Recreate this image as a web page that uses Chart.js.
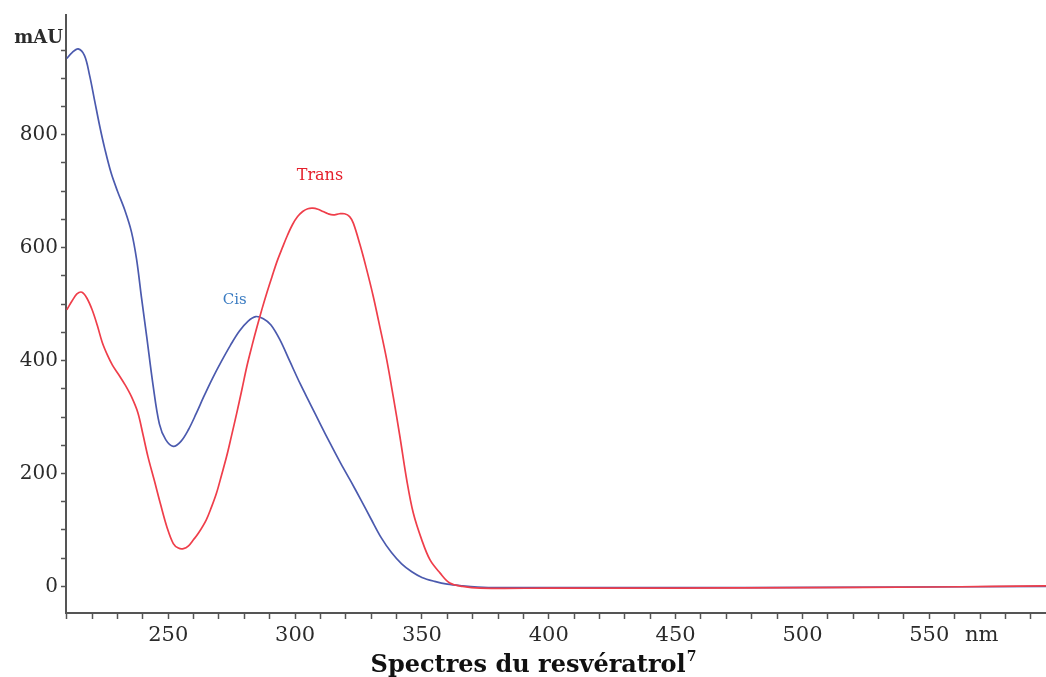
<!DOCTYPE html>
<html lang="fr">
<head>
<meta charset="utf-8">
<title>Spectres du resvératrol</title>
<script src="https://cdn.jsdelivr.net/npm/chart.js@4.4.1/dist/chart.umd.min.js"></script>
<style>
    html, body { margin: 0; padding: 0; background: #fff; }
    canvas { display: block; }
</style>
</head>
<body>
<canvas id="spectreChart" width="1046" height="677"></canvas>
<script>
const nmTrans = [210, 212, 214, 216, 218, 220, 222, 224, 226, 228, 230.5, 233, 235.5, 238, 240, 242, 244.5, 247, 249.5, 252, 254, 256, 258, 260, 262, 265, 267, 269, 271, 273, 275, 277, 279, 281, 283, 285, 287, 289, 291, 293, 295, 297, 299, 301, 303, 305, 307, 309, 311, 313, 315, 317.5, 319.5, 321.5, 323, 325.6, 328, 330.8, 333.5, 336.1, 338.7, 341.3, 344, 346.6, 349.9, 353.2, 357.1, 361, 366, 373, 400, 450, 500, 550, 575, 596];
const absTrans = [490, 505, 518, 521, 510, 490, 463, 432, 410, 392, 375, 357, 336, 308, 270, 230, 188, 145, 105, 76, 68, 67, 72, 83, 95, 118, 140, 165, 197, 230, 268, 307, 348, 390, 426, 460, 492, 522, 550, 577, 600, 622, 641, 655, 664, 669, 670, 668, 664, 660, 658, 660, 660, 655, 643, 605, 565, 514, 458, 402, 336, 266, 189, 130, 83, 47, 24, 6, 0, -3, -3, -3, -2, -1, 0, 1];

const nmCis = [210, 212, 214.5, 217, 219, 221, 223, 225, 227.5, 230, 233, 235.5, 237.5, 239.5, 241.5, 244, 246.5, 249, 252, 255, 258, 261, 264, 267.5, 271, 274.5, 278, 281.5, 284.5, 287.5, 290.5, 294, 298, 302, 306, 310, 314, 318, 322, 326, 330, 334, 338, 342, 346, 350, 355, 360, 366, 372, 380, 420, 480, 540, 596];
const absCis = [935, 945, 952, 940, 905, 860, 815, 775, 732, 700, 665, 628, 580, 510, 443, 357, 288, 260, 248, 257, 278, 306, 336, 369, 399, 427, 452, 470, 478, 474, 463, 437, 398, 359, 323, 287, 252, 218, 186, 153, 119, 86, 60, 40, 26, 16, 9, 4, 1, -1, -2, -2, -2, -1, 0];

// Graduations
const xLabelTicks = [250, 300, 350, 400, 450, 500, 550];
const yLabelTicks = [0, 200, 400, 600, 800];
const xMinorStep = 10;
const yMinorStep = 50;

const axisColor = '#555555';
const textColor = '#2b2b2b';

function toPoints(xs, ys) {
    return xs.map((x, i) => ({ x: x, y: ys[i] }));
}

// Étiquettes "Cis" / "Trans", unités et titre
const textesPlugin = {
    id: 'textes',
    afterDraw(chart) {
        const ctx = chart.ctx;
        const xs = chart.scales.x;
        const ys = chart.scales.y;
        ctx.save();
        ctx.textBaseline = 'middle';
        ctx.textAlign = 'center';

        ctx.font = '15px "DejaVu Serif"';
        ctx.fillStyle = '#3b7cc2';
        ctx.fillText('Cis', xs.getPixelForValue(276.2), ys.getPixelForValue(507));
        ctx.font = '16px "DejaVu Serif"';
        ctx.fillStyle = '#e5202c';
        ctx.fillText('Trans', xs.getPixelForValue(309.8), ys.getPixelForValue(727));

        ctx.fillStyle = textColor;
        ctx.textAlign = 'right';
        ctx.textBaseline = 'alphabetic';
        ctx.font = 'bold 18px "DejaVu Serif"';
        ctx.fillText('mAU', 63, 43);

        ctx.textAlign = 'left';
        ctx.font = '21px "DejaVu Serif"';
        ctx.fillText('nm', 965, 641);

        // titre sous l'axe, avec l'appel de note en exposant
        const titre = 'Spectres du resvératrol';
        ctx.font = 'bold 24px "DejaVu Serif"';
        const w = ctx.measureText(titre).width;
        ctx.font = 'bold 14px "DejaVu Serif"';
        const wNote = ctx.measureText('7').width;
        const x0 = 533 - (w + wNote) / 2;
        ctx.fillStyle = '#111';
        ctx.font = 'bold 24px "DejaVu Serif"';
        ctx.fillText(titre, x0, 672);
        ctx.font = 'bold 14px "DejaVu Serif"';
        ctx.fillText('7', x0 + w + 1, 661);
        ctx.restore();
    }
};

document.addEventListener('DOMContentLoaded', function () {
    const ctx = document.getElementById('spectreChart').getContext('2d');

    new Chart(ctx, {
        type: 'line',
        data: {
            datasets: [
                {
                    label: 'Trans',
                    data: toPoints(nmTrans, absTrans),
                    borderColor: '#ef3e4a',
                    borderWidth: 1.7,
                    pointRadius: 0,
                    tension: 0.35,
                    fill: false
                },
                {
                    label: 'Cis',
                    data: toPoints(nmCis, absCis),
                    borderColor: '#4b5aae',
                    borderWidth: 1.7,
                    pointRadius: 0,
                    tension: 0.35,
                    fill: false
                }
            ]
        },
        options: {
            responsive: false,
            animation: false,
            layout: { padding: { top: 15, right: 0, left: 0, bottom: 0 } },
            scales: {
                x: {
                    type: 'linear',
                    position: 'bottom',
                    min: 209.7,
                    max: 596,
                    afterBuildTicks: axis => {
                        const t = [];
                        for (let v = 210; v <= 590; v += xMinorStep) t.push({ value: v });
                        axis.ticks = t;
                    },
                    afterFit: axis => { axis.height = 64; },
                    border: { display: true, color: axisColor, width: 2 },
                    grid: {
                        drawOnChartArea: false,
                        drawTicks: true,
                        tickLength: 6,
                        color: axisColor,
                        tickColor: axisColor,
                        tickWidth: 1.5
                    },
                    ticks: {
                        autoSkip: false,
                        maxRotation: 0,
                        padding: 4,
                        color: textColor,
                        font: { family: 'DejaVu Serif', size: 21 },
                        callback: v => xLabelTicks.includes(v) ? String(v) : ''
                    }
                },
                y: {
                    type: 'linear',
                    min: -47,
                    max: 1012,
                    afterBuildTicks: axis => {
                        const t = [];
                        for (let v = 0; v <= 950; v += yMinorStep) t.push({ value: v });
                        axis.ticks = t;
                    },
                    afterFit: axis => { axis.width = 66; },
                    border: { display: true, color: axisColor, width: 2 },
                    grid: {
                        drawOnChartArea: false,
                        drawTicks: true,
                        tickLength: 5,
                        color: axisColor,
                        tickColor: axisColor,
                        tickWidth: 1.5
                    },
                    ticks: {
                        autoSkip: false,
                        padding: 3,
                        color: textColor,
                        font: { family: 'DejaVu Serif', size: 20 },
                        callback: v => yLabelTicks.includes(v) ? String(v) : ''
                    }
                }
            },
            plugins: {
                legend: { display: false },
                tooltip: { enabled: false },
                title: { display: false }
            }
        },
        plugins: [textesPlugin]
    });
});
</script>
</body>
</html>
